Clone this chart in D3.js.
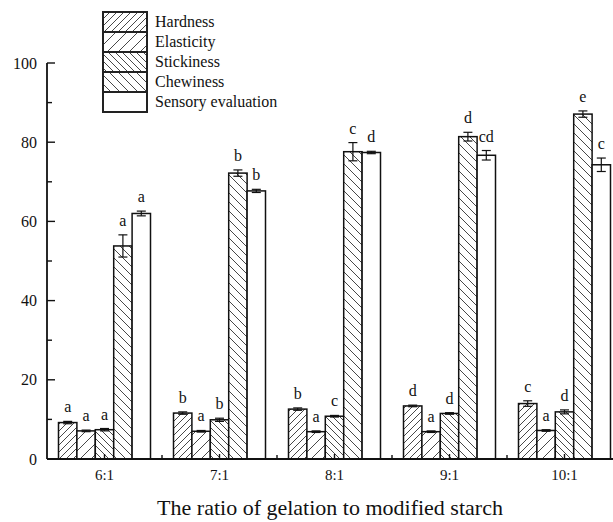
<!DOCTYPE html>
<html>
<head>
<meta charset="utf-8">
<script src="https://cdn.jsdelivr.net/npm/d3@7"></script>
<style>
  html, body { margin: 0; padding: 0; background: #fff; }
  svg { display: block; }
  text { font-family: "Liberation Serif", "DejaVu Serif", serif; fill: #111; }
</style>
</head>
<body>
<svg id="chart" width="613" height="522"></svg>
<script>
// ---- data ----
const categories = ["6:1", "7:1", "8:1", "9:1", "10:1"];
const seriesNames = ["Hardness", "Elasticity", "Stickiness", "Chewiness", "Sensory evaluation"];
const hardness   = [9.2, 11.6, 12.6, 13.4, 14.0];
const elasticity = [7.1, 7.0, 6.9, 6.9, 7.2];
const stickiness = [7.4, 9.9, 10.8, 11.5, 11.9];
const chewiness  = [53.8, 72.2, 77.6, 81.4, 87.1];
const sensory    = [62.0, 67.7, 77.4, 76.7, 74.3];
const hardnessErr   = [0.3, 0.3, 0.3, 0.2, 0.7];
const elasticityErr = [0.2, 0.2, 0.2, 0.2, 0.2];
const stickinessErr = [0.3, 0.4, 0.2, 0.2, 0.5];
const chewinessErr  = [2.8, 0.8, 2.3, 1.1, 0.8];
const sensoryErr    = [0.6, 0.4, 0.3, 1.2, 1.7];
const hardnessSig   = ["a", "b", "b", "d", "c"];
const elasticitySig = ["a", "a", "a", "a", "a"];
const stickinessSig = ["a", "b", "c", "d", "d"];
const chewinessSig  = ["a", "b", "c", "d", "e"];
const sensorySig    = ["a", "b", "d", "cd", "c"];
const yTicks = [0, 20, 40, 60, 80, 100];

const values = [hardness, elasticity, stickiness, chewiness, sensory];
const errors = [hardnessErr, elasticityErr, stickinessErr, chewinessErr, sensoryErr];
const sigs = [hardnessSig, elasticitySig, stickinessSig, chewinessSig, sensorySig];

const rows = [];
categories.forEach((c, i) => {
  seriesNames.forEach((s, j) => {
    rows.push({cat: c, series: s, si: j, v: values[j][i], e: errors[j][i], sig: sigs[j][i]});
  });
});

// ---- layout ----
const svg = d3.select("#chart");
const x0 = 47, yBase = 459, yTop = 63;
const x = d3.scaleBand().domain(categories).range([x0, x0 + 115 * categories.length]).padding(0);
const groupW = 92;
const xs = d3.scaleBand().domain(seriesNames).range([-groupW / 2, groupW / 2]).padding(0);
const y = d3.scaleLinear().domain([0, 100]).range([yBase, yTop]);

// ---- hatch patterns ----
const defs = svg.append("defs");
const patSpec = [
  {id: "p0", dir: 1, s: 7},
  {id: "p1", dir: 1, s: 11},
  {id: "p2", dir: -1, s: 7},
  {id: "p3", dir: -1, s: 9},
  {id: "p4", dir: 0, s: 8}
];
patSpec.forEach(p => {
  const s = p.s;
  const pat = defs.append("pattern").attr("id", p.id)
    .attr("patternUnits", "userSpaceOnUse").attr("width", s).attr("height", s);
  pat.append("rect").attr("width", s).attr("height", s).attr("fill", "#fff");
  if (p.dir === 0) return;
  const segs = p.dir === 1
    ? [[0, s, s, 0], [-s / 2, s / 2, s / 2, -s / 2], [s / 2, 3 * s / 2, 3 * s / 2, s / 2]]
    : [[0, 0, s, s], [-s / 2, s / 2, s / 2, 3 * s / 2], [s / 2, -s / 2, 3 * s / 2, s / 2]];
  segs.forEach(l => pat.append("line")
    .attr("x1", l[0]).attr("y1", l[1]).attr("x2", l[2]).attr("y2", l[3])
    .attr("stroke", "#333").attr("stroke-width", 0.9));
});

// ---- bars ----
const barX = d => x(d.cat) + x.bandwidth() / 2 + xs(d.series);
svg.append("g").selectAll("rect").data(rows).join("rect")
  .attr("x", barX)
  .attr("y", d => y(d.v))
  .attr("width", xs.bandwidth())
  .attr("height", d => y(0) - y(d.v))
  .attr("fill", d => `url(#p${d.si})`)
  .attr("stroke", "#111").attr("stroke-width", 1.5);

// ---- error bars ----
const eg = svg.append("g").attr("stroke", "#111").attr("stroke-width", 1.2);
rows.forEach(d => {
  const cx = barX(d) + xs.bandwidth() / 2;
  eg.append("line").attr("x1", cx).attr("x2", cx).attr("y1", y(d.v + d.e)).attr("y2", y(d.v - d.e));
  [d.v + d.e, d.v - d.e].forEach(t => eg.append("line")
    .attr("x1", cx - 4.5).attr("x2", cx + 4.5).attr("y1", y(t)).attr("y2", y(t)));
});

// ---- significance letters ----
svg.append("g").selectAll("text").data(rows).join("text")
  .attr("x", d => barX(d) + xs.bandwidth() / 2)
  .attr("y", d => y(d.v + d.e) - 9)
  .attr("text-anchor", "middle")
  .attr("font-size", 16)
  .text(d => d.sig);

// ---- axes ----
const axG = svg.append("g").attr("stroke", "#111").attr("stroke-width", 1.8);
axG.append("line").attr("x1", x0).attr("x2", 613).attr("y1", yBase).attr("y2", yBase);
axG.append("line").attr("x1", x0).attr("x2", x0).attr("y1", yBase).attr("y2", yTop);
d3.range(0, 101, 10).forEach(v => {
  axG.append("line").attr("x1", x0).attr("x2", x0 + (v % 20 === 0 ? 8 : 5))
    .attr("y1", y(v)).attr("y2", y(v)).attr("stroke-width", 1.4);
});
categories.forEach((c, i) => {
  const cx = x(c) + x.bandwidth() / 2;
  axG.append("line").attr("x1", cx).attr("x2", cx).attr("y1", yBase).attr("y2", yBase - 5).attr("stroke-width", 1.4);
  const mx = x(c) + x.bandwidth();
  axG.append("line").attr("x1", mx).attr("x2", mx).attr("y1", yBase).attr("y2", yBase - 4).attr("stroke-width", 1.4);
});

svg.append("g").selectAll("text").data(yTicks).join("text")
  .attr("x", 37).attr("y", d => y(d) + 5.5)
  .attr("text-anchor", "end").attr("font-size", 16)
  .text(d => d);

svg.append("g").selectAll("text").data(categories).join("text")
  .attr("x", d => x(d) + x.bandwidth() / 2).attr("y", 480)
  .attr("text-anchor", "middle").attr("font-size", 15)
  .text(d => d);

svg.append("text").attr("x", 330).attr("y", 515)
  .attr("text-anchor", "middle").attr("font-size", 22)
  .text("The ratio of gelation to modified starch");

// ---- legend ----
const lg = svg.append("g").attr("transform", "translate(103,12)");
seriesNames.forEach((s, j) => {
  lg.append("rect").attr("x", 0).attr("y", j * 20).attr("width", 44).attr("height", 20)
    .attr("fill", `url(#p${j})`).attr("stroke", "#222").attr("stroke-width", 2);
  lg.append("text").attr("x", 52).attr("y", j * 20 + 15).attr("font-size", 16).text(s);
});
</script>
</body>
</html>
